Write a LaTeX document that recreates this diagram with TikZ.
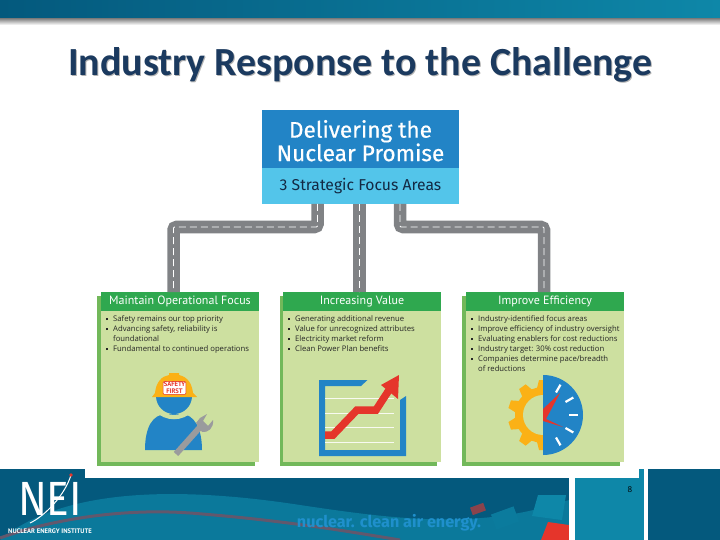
\documentclass[tikz,border=0pt]{standalone}
\usepackage{fontspec}
\setmainfont{Open Sans}
\newfontfamily\titlefont{Carlito}
\newfontfamily\headfont{PT Sans}
\newfontfamily\nodefont{Fira Sans}
\newfontfamily\boxfont[FakeBold=0.5]{Fira Sans}
\usetikzlibrary{arrows.meta,positioning,calc}
\definecolor{neiTitle}{HTML}{1B3A5F}
\definecolor{neiDark}{HTML}{04597D}
\definecolor{neiTeal}{HTML}{0E87A8}
\definecolor{neiBlue}{HTML}{2284C6}
\definecolor{neiSky}{HTML}{53C5EA}
\definecolor{neiRoad}{HTML}{808285}
\definecolor{neiGreen}{HTML}{2FA84F}
\definecolor{neiCard}{HTML}{CDE0A0}
\definecolor{neiEdge}{HTML}{72B85A}
\definecolor{neiGold}{HTML}{FBB116}
\definecolor{neiRed}{HTML}{E5352B}
\newcommand{\bul}{\rule[1pt]{1.8pt}{2.1pt}\hspace{5.2pt}}
\newcommand{\bulgap}{\hspace{7pt}}
\begin{document}
\begin{tikzpicture}[x=1pt,y=-1pt,
    road/.style={draw=neiRoad,line width=12.5pt,rounded corners=3pt},
    lane/.style={draw=white,line width=0.9pt,dash pattern=on 7pt off 4pt,rounded corners=1pt},
    card/.style={fill=neiCard,minimum width=158pt,minimum height=170pt,inner sep=0pt},
    head/.style={fill=neiGreen,text=white,minimum width=158pt,minimum height=19pt,inner sep=0pt,font=\headfont\fontsize{12}{14}\selectfont},
    lst/.style={align=left,inner sep=0pt,font=\fontsize{7.7}{10}\selectfont,text=black!85,anchor=north west}]
    \useasboundingbox (0,0) rectangle (720,540);
    % top band
    \fill[left color=neiDark,right color=neiTeal] (0,0) rectangle (720,19);
    \fill[top color=black!45,bottom color=white] (0,19) rectangle (720,25);
    \node[font=\titlefont\bfseries\fontsize{39.9}{44}\selectfont,text=black!30] at (361,65.5) {Industry Response to the Challenge};
    \node[font=\titlefont\bfseries\fontsize{39.9}{44}\selectfont,text=neiTitle] (title) at (360,64.5) {Industry Response to the Challenge};
    % bottom band
    \fill[neiDark] (0,469) rectangle (720,540);
    \fill[neiTeal!70!neiDark] (0,540) .. controls (60,490) and (170,485) .. (300,505) .. controls (400,520) and (480,530) .. (569,500) -- (569,540) -- cycle;
    \draw[line width=3pt,red!35!neiTeal] (0,538) .. controls (50,520) and (120,508) .. (190,513) .. controls (280,520) and (340,530) .. (400,540);
    \fill[neiRed!60!neiDark,rotate around={20:(478,509)}] (471,505) rectangle (485,513);
    \fill[neiTeal!75!neiDark,rotate around={20:(505,518)}] (493,510) rectangle (517,526);
    \fill[neiTeal] (538,495) -- (566,495) -- (562,520) -- (532,516) -- cycle;
    \fill[neiRed] (548,522) -- (569,525) -- (569,540) -- (541,540) -- cycle;
    \fill[white] (569,469) rectangle (575,540);
    \fill[neiTeal] (575,469) rectangle (644,540);
    \fill[white] (644,469) rectangle (648,540);
    \fill[white] (85,460) rectangle (639,478);
    \node[font=\fontsize{8}{10}\selectfont,text=black] (page) at (630,490) {8};
    \node[font=\nodefont\bfseries\fontsize{16.2}{18}\selectfont,text=neiBlue!90!cyan] (slogan) at (389,523) {nuclear. clean air energy.};
    \node[font=\nodefont\fontsize{48}{50}\selectfont,text=white,xscale=.88,inner sep=0pt,text depth=0pt,text height=32pt] (logo) at (50,499) {NEI};
    \draw[white,line width=1pt] (30,523) .. controls (45,516) and (65,495) .. (71,475);
    \fill[neiRed] (71,475) circle (1.8pt);
    \node[font=\headfont\bfseries\fontsize{6.6}{7}\selectfont,text=white,inner sep=0pt] (logotext) at (50,531) {NUCLEAR ENERGY INSTITUTE};
    % head box
    \node[fill=neiBlue,text=white,minimum width=197pt,minimum height=58pt,inner sep=0pt,align=center,font=\boxfont\fontsize{22.6}{22}\selectfont] (promise) at (360.5,139) {\rule{0pt}{21pt}Delivering the\\Nuclear Promise};
    \node[fill=neiSky,text=neiTitle!70!black,minimum width=197pt,minimum height=36pt,inner sep=0pt,font=\nodefont\fontsize{15.7}{17}\selectfont,below=0pt of promise] (areas) {3 Strategic Focus Areas};
    % cards
    \fill[neiEdge] (97,296) rectangle (255,466);
    \fill[neiEdge] (280,296) rectangle (437,466);
    \fill[neiEdge] (462,296) rectangle (620,466);
    \node[card] (cardA) at (180,377) {};
    \node[card] (cardB) at (362,377) {};
    \node[card] (cardC) at (545,377) {};
    \node[head] (headA) at (180,301.5) {Maintain Operational Focus};
    \node[head] (headB) at (362,301.5) {Increasing Value};
    \node[head] (headC) at (545,301.5) {Improve Efficiency};
    % roads
    \coordinate (roadA) at (317.5,204);
    \coordinate (roadB) at (359.5,204);
    \coordinate (roadC) at (400,204);
    \coordinate (endA) at (173.5,292);
    \coordinate (endB) at (359.5,292);
    \coordinate (endC) at (544,292);
    \foreach \s/\e in {roadA/endA,roadC/endC}{
      \draw[road] (\s) -- (\s |- 0,227) -- (\e |- 0,227) -- (\e);
      \draw[lane] (\s) -- (\s |- 0,227) -- (\e |- 0,227) -- (\e);
    }
    \draw[road] (roadB) -- (endB);
    \draw[lane] (roadB) -- (endB);
    % bullet lists
    \node[lst] (listA) at (106,315) {\bul Safety remains our top priority\\\bul Advancing safety, reliability is\\\bulgap foundational\\\bul Fundamental to continued operations};
    \node[lst] (listB) at (288,315) {\bul Generating additional revenue\\\bul Value for unrecognized attributes\\\bul Electricity market reform\\\bul Clean Power Plan benefits};
    \node[lst] (listC) at (471,315) {\bul Industry-identified focus areas\\\bul Improve efficiency of industry oversight\\\bul Evaluating enablers for cost reductions\\\bul Industry target: 30\% cost reduction\\\bul Companies determine pace/breadth\\\bulgap of reductions};
    % worker
    \fill[neiBlue] (145,450) .. controls (145,428) and (152,414) .. (167,414) -- (181,414) .. controls (194,414) and (202,428) .. (202,450) -- cycle;
    \fill[neiBlue] (174,396) circle (18pt);
    \fill[neiCard] (158,406) .. controls (165,418) and (183,418) .. (190,406) -- (193,411) .. controls (183,422) and (165,422) .. (155,411) -- cycle;
    \fill[neiGold] (152,397) -- (155,393) .. controls (156,382) and (162,376) .. (169,375) -- (169,373) -- (179,373) -- (179,375) .. controls (188,377) and (192,384) .. (193,393) -- (197,397) -- cycle;
    \node[draw=neiRed,fill=white,rounded corners=1pt,inner sep=.6pt,align=center,text=neiRed,font=\headfont\bfseries\fontsize{6.6}{6.8}\selectfont] (sign) at (174.5,388) {SAFETY\\FIRST};
    \draw[neiRoad!80,line width=6pt] (176,454) -- (201,426);
    \fill[neiRoad!80] (196,423) -- (200,418) -- (207,414) -- (203,421) -- (208,426) -- (213,420) .. controls (214,428) and (208,433) .. (202,432) -- cycle;
    % chart
    \fill[neiBlue] (319,380) -- (367.5,380) -- (361,386) -- (325,386) -- (325,450) -- (400,450) -- (400,400) -- (406,396) -- (406,456) -- (319,456) -- cycle;
    \foreach \yy in {398,413,427,442}{\draw[white!85!neiCard,line width=.8pt] (325,\yy) -- (394,\yy);}
    \draw[neiRed,line width=7.5pt] (325,435) -- (333,435) -- (357,410) -- (376,410) -- (391,387);
    \fill[neiRed] (399,375) -- (398,399) -- (381,385) -- cycle;
    % gauge
    \foreach \a in {90,126,...,270}{\fill[neiGold,rotate around={\a:(543,415)}] (570,409) -- (578,411) -- (578,419) -- (570,421) -- cycle;}
    \fill[neiGold] (543,387) arc (90:270:28pt) -- cycle;
    \fill[neiCard] (543,395) arc (90:270:20pt) -- cycle;
    \fill[neiBlue] (543,375) arc (90:-90:40pt) -- cycle;
    \foreach \a in {60,30,0,-30,-60}{\draw[white,line width=2.2pt] ($(543,415)+(\a:26pt)$) -- ($(543,415)+(\a:35pt)$);}
    \fill[neiRed] (543,409) -- (560,393) -- (546,419) -- (563,427) -- (543,421) -- cycle;
  \end{tikzpicture}
\end{document}
